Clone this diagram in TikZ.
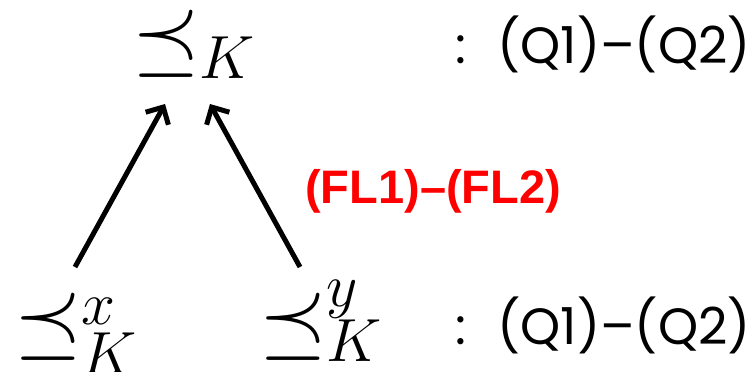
\RequirePackage{fix-cm}
\documentclass[tikz,border=0pt]{standalone}
\usepackage{fontspec}
\newfontfamily\qfont{Poppins}
\newfontfamily\flfont{Liberation Sans}
\usetikzlibrary{arrows.meta}
\tikzset{
  rel/.style={anchor=base west,inner sep=0pt,font=\fontsize{87}{100}\selectfont},
  qtext/.style={anchor=base west,inner sep=0pt,font=\fontsize{51}{58}\qfont},
  fltext/.style={anchor=base west,inner sep=0pt,text=red,font=\fontsize{47}{54}\flfont\bfseries},
  link/.style={line width=5pt,-{Straight Barb[length=13pt,width=26pt]}}
}
\begin{document}
\begin{tikzpicture}[x=1pt,y=-1pt]
\useasboundingbox (0,0) rectangle (755,372);
\node[rel] (top) at (132,65) {$\preceq_K$};
\node[rel] (bx) at (14,348) {$\preceq^{\lower8pt\hbox{$\scriptstyle x$}}_{\lower5pt\hbox{$\scriptstyle K$}}$};
\node[rel] (by) at (259,348) {$\preceq^{\lower8pt\hbox{$\scriptstyle y$}}_{\lower5pt\hbox{$\scriptstyle K$}}$};
\node[qtext] (q1) at (455,63) {:\hspace{0.62em}(Q1)–(Q2)};
\node[qtext] (q2) at (455,344) {:\hspace{0.62em}(Q1)–(Q2)};
\node[fltext] (fl) at (305,203) {(FL1)–(FL2)};
\draw[link] ([shift={(61,-81)}]bx.base west) -- ([shift={(33,39)}]top.base west);
\draw[link] ([shift={(41,-81)}]by.base west) -- ([shift={(78,39)}]top.base west);
\end{tikzpicture}
\end{document}
